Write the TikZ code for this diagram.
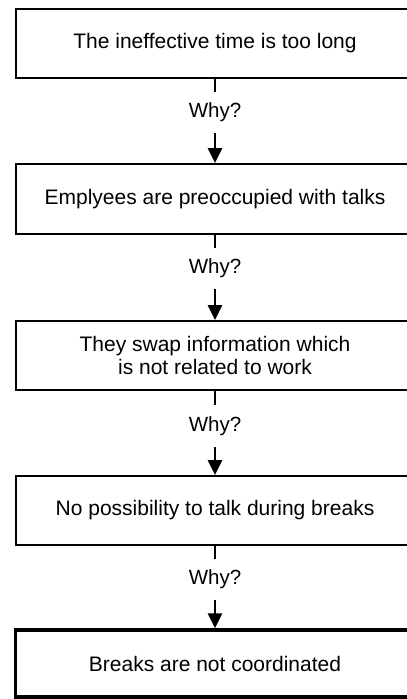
\documentclass[tikz,border=0pt]{standalone}
\usepackage{fontspec}
\setmainfont{Liberation Sans}
\usetikzlibrary{arrows.meta}
\begin{document}
\begin{tikzpicture}[x=1pt,y=1pt,
  box/.style={draw, line width=2pt, minimum width=399pt, inner sep=0pt, align=center,
    font=\fontsize{21}{22.5}\selectfont},
  why/.style={inner sep=0pt, minimum height=41pt, font=\fontsize{20.5}{22}\selectfont},
  conn/.style={line width=2.6pt},
  arr/.style={conn, -{Triangle[length=15pt,width=14pt]}}]
\useasboundingbox (0,0) rectangle (407,-699);
\clip (0,0) rectangle (407,-699);
\node[box, minimum height=69pt] (b1) at (215,-43.5) {The ineffective time is too long};
\node[box, minimum height=70pt] (b2) at (215,-199) {Emplyees are preoccupied with talks};
\node[box, minimum height=69pt] (b3) at (215,-355.5) {They swap information which\\is not related to work};
\node[box, minimum height=69pt] (b4) at (215,-510.5) {No possibility to talk during breaks};
\node[box, line width=3.5pt, minimum height=67pt] (b5) at (215,-663.5) {Breaks are not coordinated};
\node[why] (w1) at (215,-112.5) {Why?};
\node[why] (w2) at (215,-268.5) {Why?};
\node[why] (w3) at (215,-426) {Why?};
\node[why] (w4) at (215,-579.5) {Why?};
\draw[conn] (b1.south) -- (w1.north);
\draw[arr] (w1.south) -- (b2.north);
\draw[conn] (b2.south) -- (w2.north);
\draw[arr] (w2.south) -- (b3.north);
\draw[conn] (b3.south) -- (w3.north);
\draw[arr] (w3.south) -- (b4.north);
\draw[conn] (b4.south) -- (w4.north);
\draw[arr] (w4.south) -- (b5.north);
\end{tikzpicture}
\end{document}
